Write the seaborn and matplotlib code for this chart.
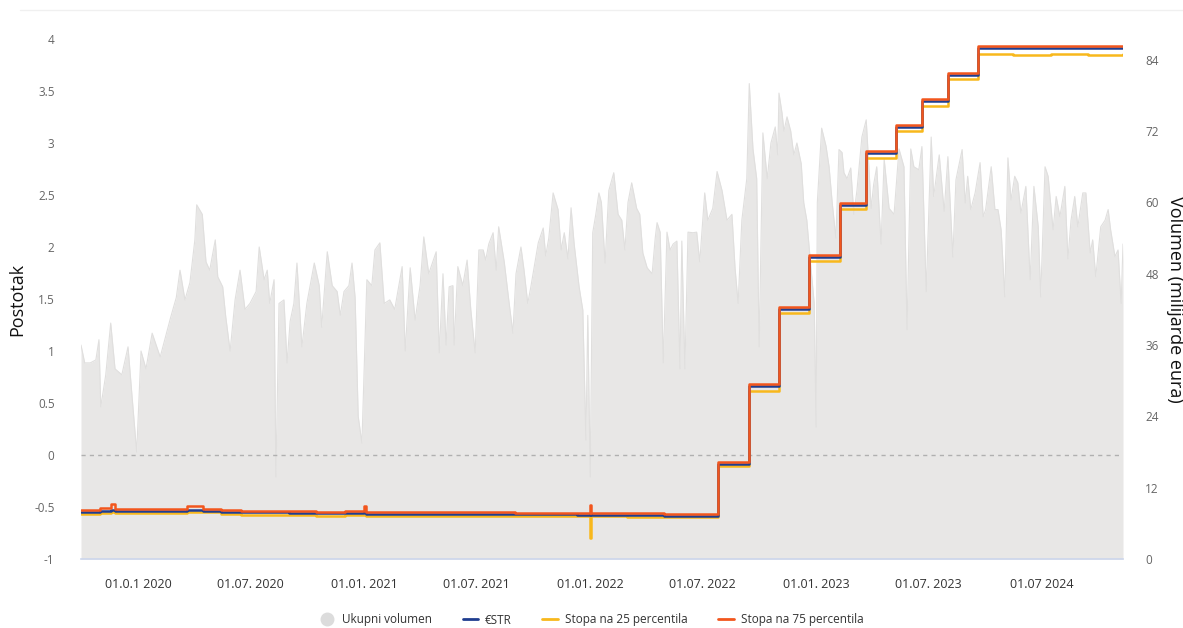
import matplotlib
matplotlib.use("Agg")
import matplotlib.pyplot as plt
import matplotlib.lines as mlines
import numpy as np
import pandas as pd
import seaborn as sns

# ---------------- data ----------------
start_date = "2019-10-01"
vol_day = [0, 6, 15, 24, 29, 32, 40, 48, 55, 66, 76, 82, 90, 97, 105, 115, 128, 145, 154, 160,
           168, 176, 184, 187, 196, 202, 208, 217, 221, 229, 234, 241, 249, 257, 265, 273, 283,
           288, 296, 301, 305, 312, 315, 320, 328, 333, 338, 344, 349, 357, 365, 377, 385, 389,
           398, 406, 414, 419, 425, 433, 438, 443, 448, 454, 462, 470, 475, 483, 490, 499, 507,
           519, 524, 532, 540, 548, 554, 562,
           574, 579, 585, 590, 595, 601, 603, 609, 617, 624, 630, 637, 643, 650, 654, 659, 666,
           671, 675, 684, 692, 698, 703, 711, 716, 722, 727, 739, 747, 751, 756, 763, 771, 776,
           781, 787, 792, 797, 805, 811, 816, 819, 823, 827, 832, 837, 841,
           847, 853, 861, 868, 874, 879, 884, 890, 898, 903, 908, 915, 923, 928, 931, 936, 941,
           947, 952, 957, 963, 968, 971, 976, 981, 989, 995, 1000, 1008, 1013, 1021, 1028, 1036,
           1044, 1052, 1057, 1062, 1068, 1076, 1080, 1086, 1092, 1096, 1102, 1109, 1115, 1122, 1126,
           1128, 1133, 1136, 1141, 1147, 1152, 1157, 1164, 1168, 1173, 1180, 1185, 1188, 1190,
           1197, 1204, 1209, 1214, 1220, 1225, 1230, 1233, 1238, 1244, 1249, 1254, 1262, 1269,
           1277, 1281, 1286, 1293, 1298, 1306, 1314, 1322, 1330, 1335, 1341, 1346, 1354, 1359,
           1366, 1374, 1378, 1387, 1395,
           1401, 1409, 1414, 1424, 1429, 1433, 1438, 1445, 1453, 1458, 1462, 1471, 1477, 1482,
           1487, 1493, 1498, 1503, 1509, 1514, 1519, 1527, 1534, 1540, 1547, 1551, 1558, 1563,
           1571, 1576, 1582, 1590, 1595, 1600, 1606, 1611, 1619, 1624, 1631, 1635, 1640, 1648,
           1655, 1660, 1664, 1671, 1676, 1681, 1684]
vol_bn = [36, 33, 33, 33.5, 36.9, 25.6, 31, 39.7, 32, 31, 35.7, 28, 18, 35, 32, 38, 34, 40.7, 44, 48.6,
          43.6, 46.5, 53.7, 59.6, 58, 50, 48.6, 53.7, 47.5, 45.8, 40.7, 35, 43.6, 48.6, 42, 43, 45,
          52.5, 47, 48.6, 43, 47, 13.8, 43, 43.6, 33, 40, 43, 49.8, 35.7, 43, 49.8, 46, 39,
          51.7, 46, 45, 41, 45, 46, 49.8, 44, 24, 19.5, 47, 46, 52, 53.2, 43, 43.6, 42,
          49.2, 35, 49, 40.2, 46, 54.2, 48,
          51.7, 34.7, 48, 36, 45.8, 46, 36, 49.2, 46, 50.3, 41.9, 34.7, 52, 52, 50.3, 53, 54.9,
          48.6, 55.9, 50, 43, 38, 48, 52.5, 48.6, 43, 45.8, 53.2, 55.7, 51, 54, 61.6, 58.8, 52,
          54.9, 50.5, 59.1, 53, 45.8, 41.9, 20, 41, 13.8, 54.9, 58, 61.6, 60,
          49.8, 62, 65, 58, 57, 52, 60, 63.3, 59, 58, 51.5, 49, 48, 54, 56.6, 55, 33,
          55, 52, 53, 53.5, 32, 53.5, 32, 55, 54.9, 55, 50, 61.6, 57, 59, 65.2, 62,
          57, 58, 49, 43, 57, 64, 80, 69, 64, 35.7, 71.7, 64, 70, 72.7, 68,
          78.4, 75, 72, 74.4, 72, 68, 70, 66.5, 60, 57, 48.6, 43, 22.2, 60,
          72.5, 69.5, 66, 60, 54, 68.9, 68.4, 65, 64, 65.8, 58, 62, 71, 73.9,
          59, 63, 66, 53, 67.3, 59, 58, 69, 66, 38.6, 69, 66, 65.5, 69.4,
          45, 71, 61, 68, 58.5,
          67.7, 50.8, 63.8, 68.9, 59.9, 64.4, 58.8, 61.6, 66.7, 57.6, 58.8, 66, 58.8, 58.8,
          55.4, 44.1, 67.5, 60.4, 64.4, 63.3, 58.2, 62.7, 47, 62.7, 55.9, 44.1, 66, 64.4,
          55.4, 61, 57.6, 62.7, 50.5, 57, 61, 55.9, 61.6, 61.6, 51.5, 53.7, 47.5, 55.9,
          57, 58.8, 55.4, 50.9, 52, 43, 53]

rate_dates = ["2019-10-01", "2019-11-01", "2019-11-18", "2019-11-25", "2020-01-02", "2020-02-03",
              "2020-03-02", "2020-03-20", "2020-04-15", "2020-05-15", "2020-06-15", "2020-07-15",
              "2020-09-01", "2020-10-15", "2020-12-01", "2020-12-31", "2021-01-04", "2021-03-01",
              "2021-05-01", "2021-07-01", "2021-09-01", "2021-11-01", "2021-12-10", "2021-12-31",
              "2022-01-03", "2022-03-01", "2022-05-01", "2022-07-01", "2022-07-27", "2022-09-14",
              "2022-11-02", "2022-12-21", "2023-02-08", "2023-03-22", "2023-05-10", "2023-06-21",
              "2023-08-02", "2023-09-20", "2023-11-15", "2024-01-15", "2024-03-15", "2024-05-11"]
estr = [-0.55, -0.54, -0.53, -0.54, -0.54, -0.54, -0.54, -0.53, -0.535, -0.545, -0.55, -0.55,
        -0.555, -0.555, -0.555, -0.55, -0.565, -0.565, -0.565, -0.565, -0.57, -0.57, -0.575, -0.57,
        -0.58, -0.58, -0.585, -0.585, -0.09, 0.66, 1.40, 1.90, 2.40, 2.90, 3.15, 3.40,
        3.65, 3.91, 3.91, 3.91, 3.91, 3.91]
p25 = [-0.57, -0.56, -0.55, -0.56, -0.555, -0.56, -0.56, -0.55, -0.55, -0.57, -0.58, -0.575,
       -0.58, -0.585, -0.58, -0.575, -0.59, -0.585, -0.59, -0.585, -0.59, -0.59, -0.59, -0.80,
       -0.59, -0.60, -0.60, -0.60, -0.11, 0.62, 1.37, 1.87, 2.37, 2.86, 3.12, 3.36,
       3.62, 3.86, 3.85, 3.86, 3.85, 3.86]
p75 = [-0.53, -0.51, -0.47, -0.52, -0.52, -0.52, -0.52, -0.49, -0.52, -0.53, -0.54, -0.54,
       -0.54, -0.545, -0.54, -0.49, -0.55, -0.55, -0.55, -0.55, -0.555, -0.555, -0.56, -0.48,
       -0.555, -0.56, -0.565, -0.565, -0.07, 0.68, 1.42, 1.92, 2.42, 2.92, 3.17, 3.42,
       3.67, 3.93, 3.93, 3.93, 3.93, 3.93]

xtick_dates = ["2020-01-01", "2020-07-01", "2021-01-01", "2021-07-01", "2022-01-01",
               "2022-07-01", "2023-01-01", "2023-07-01", "2024-01-01"]
xtick_labels = ["01.0.1 2020", "01.07. 2020", "01.01. 2021", "01.07. 2021", "01.01. 2022",
                "01.07. 2022", "01.01. 2023", "01.07. 2023", "01.07 2024"]
left_ticks = [-1, -0.5, 0, 0.5, 1, 1.5, 2, 2.5, 3, 3.5, 4]
right_ticks = [0, 12, 24, 36, 48, 60, 72, 84]

legend_labels = ["Ukupni volumen", "€STR", "Stopa na 25 percentila", "Stopa na 75 percentila"]

# ---------------- frames ----------------
vol_df = pd.DataFrame({
    "date": pd.Timestamp(start_date) + pd.to_timedelta(vol_day, unit="D"),
    "vol": vol_bn,
})
rate_df = pd.DataFrame({"date": pd.to_datetime(rate_dates), "estr": estr, "p25": p25, "p75": p75})

# ---------------- style ----------------
sns.set_theme(style="white")
plt.rcParams["font.family"] = ["Open Sans", "DejaVu Sans"]

BLUE = "#1f3d8f"
YELLOW = "#f8b81c"
ORANGE = "#f2561d"
AREA = "#e8e7e6"
AXIS_LINE = "#ccd6eb"

fig = plt.figure(figsize=(11.83, 6.28), dpi=100)
ax = fig.add_axes([81 / 1183, 1 - 559 / 628, (1123 - 81) / 1183, (559 - 39) / 628])
ax2 = ax.twinx()
ax.set_zorder(ax2.get_zorder() + 1)
ax.patch.set_visible(False)

# volume area (right axis)
ax2.fill_between(vol_df["date"], 0, vol_df["vol"], color=AREA, linewidth=0)
sns.lineplot(data=vol_df, x="date", y="vol", ax=ax2, color="#e0dfde", linewidth=0.8, legend=False)

# rates (left axis)
sns.lineplot(data=rate_df, x="date", y="p25", ax=ax, color=YELLOW, linewidth=1.8,
             drawstyle="steps-post", legend=False)
sns.lineplot(data=rate_df, x="date", y="estr", ax=ax, color=BLUE, linewidth=1.8,
             drawstyle="steps-post", legend=False)
sns.lineplot(data=rate_df, x="date", y="p75", ax=ax, color=ORANGE, linewidth=1.8,
             drawstyle="steps-post", legend=False)

ax.axhline(0, color="#b0b0b0", linestyle=(0, (3, 3)), linewidth=1.0, zorder=1)

# limits
xmin = pd.Timestamp(start_date)
xmax = pd.Timestamp(start_date) + pd.Timedelta(days=vol_day[-1])
ax.set_xlim(xmin, xmax)
ax.set_ylim(-1, 4)
ax2.set_ylim(0, 87.5)

# ticks
ax.set_xticks(pd.to_datetime(xtick_dates))
ax.set_xticklabels(xtick_labels, fontsize=9, color="#333333")
ax.set_yticks(left_ticks)
ax.set_yticklabels([f"{t:g}" for t in left_ticks], fontsize=8.5, color="#666666")
ax2.set_yticks(right_ticks)
ax2.set_yticklabels([str(t) for t in right_ticks], fontsize=8.5, color="#666666")

ax.tick_params(axis="x", length=6, width=1, color=AXIS_LINE, pad=8)
ax.tick_params(axis="y", length=0, pad=19)
ax2.tick_params(axis="y", length=0, pad=16)

for a in (ax, ax2):
    for s in ("top", "left", "right"):
        a.spines[s].set_visible(False)
ax.spines["bottom"].set_color(AXIS_LINE)
ax.spines["bottom"].set_linewidth(1.2)
ax2.spines["bottom"].set_visible(False)

ax.set_xlabel("")
ax.set_ylabel("Postotak", fontsize=13, color="#111111", labelpad=6)
ax2.set_ylabel("Volumen (milijarde eura)", fontsize=13, color="#111111", rotation=270, labelpad=18)

# faint top border
fig.add_artist(mlines.Line2D([20 / 1183, 1.0], [1 - 10 / 628, 1 - 10 / 628],
                             color="#f0f0f0", linewidth=1))

# legend
handles = [
    mlines.Line2D([], [], marker="o", linestyle="none", markersize=9,
                  markerfacecolor="#dcdcdc", markeredgecolor="#dcdcdc"),
    mlines.Line2D([], [], color=BLUE, linewidth=2),
    mlines.Line2D([], [], color=YELLOW, linewidth=2),
    mlines.Line2D([], [], color=ORANGE, linewidth=2),
]
fig.legend(handles, legend_labels, loc="center", bbox_to_anchor=(0.5, 1 - 620 / 628),
           ncol=4, frameon=False, fontsize=8.5, handlelength=1.3, handletextpad=0.6,
           columnspacing=2.6, labelcolor="#333333")

fig.savefig("out.png", dpi=100)
